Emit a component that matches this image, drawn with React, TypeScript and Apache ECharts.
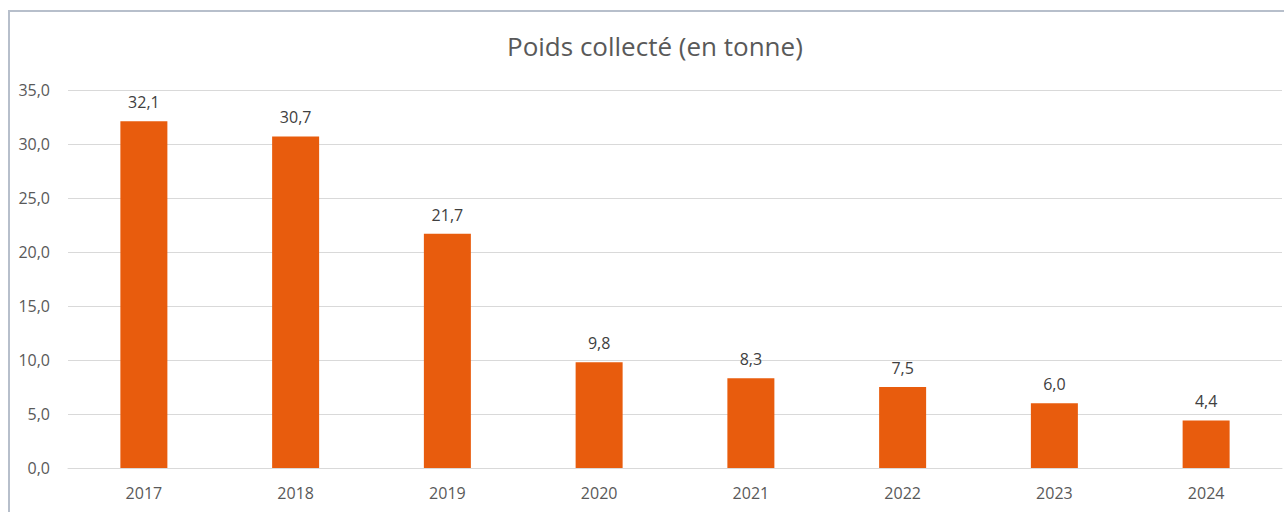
import React, { useEffect, useRef } from "react";
import * as echarts from "echarts";

const categories = ["2017", "2018", "2019", "2020", "2021", "2022", "2023", "2024"];
const values = [32.1, 30.7, 21.7, 9.8, 8.3, 7.5, 6.0, 4.4];
const titleText = "Poids collecté (en tonne)";

const fmt = (v: number) => v.toFixed(1).replace(".", ",");

export default function App() {
  const ref = useRef<HTMLDivElement>(null);
  useEffect(() => {
    if (!ref.current) return;
    const chart = echarts.init(ref.current, undefined, { renderer: "svg" });
    const font = "'Open Sans', 'Liberation Sans', sans-serif";
    chart.setOption({
      animation: false,
      backgroundColor: "#ffffff",
      textStyle: { fontFamily: font },
      title: {
        text: titleText,
        left: 502,
        top: 28,
        textStyle: { fontFamily: font, fontSize: 26, fontWeight: "normal", color: "#595959" },
      },
      graphic: [
        {
          type: "rect",
          shape: { x: 9, y: 11, width: 1300, height: 520 },
          style: { fill: "none", stroke: "#B7BFCB", lineWidth: 2 },
          silent: true,
        },
      ],
      grid: { left: 68, right: 2, top: 90, bottom: 44, containLabel: false },
      xAxis: {
        type: "category",
        data: categories,
        axisLine: { show: true, lineStyle: { color: "#D9D9D9", width: 1 } },
        axisTick: { show: false },
        axisLabel: { color: "#595959", fontSize: 16, margin: 17, fontFamily: font },
      },
      yAxis: {
        type: "value",
        min: 0,
        max: 35,
        interval: 5,
        axisLine: { show: false },
        axisTick: { show: false },
        splitLine: { lineStyle: { color: "#D9D9D9", width: 1 } },
        axisLabel: { color: "#595959", fontSize: 16, margin: 18, fontFamily: font, formatter: (v: number) => fmt(v) },
      },
      series: [
        {
          type: "bar",
          data: values,
          barWidth: 47,
          itemStyle: { color: "#E85C0D" },
          label: {
            show: true,
            position: "top",
            distance: 11,
            color: "#404040",
            fontSize: 16,
            fontFamily: font,
            formatter: (p: any) => fmt(p.value),
          },
        },
      ],
    });
    return () => chart.dispose();
  }, []);
  return (
    <div
      ref={ref}
      style={{ position: "fixed", left: 0, top: 0, width: 1284, height: 512 }}
    />
  );
}
